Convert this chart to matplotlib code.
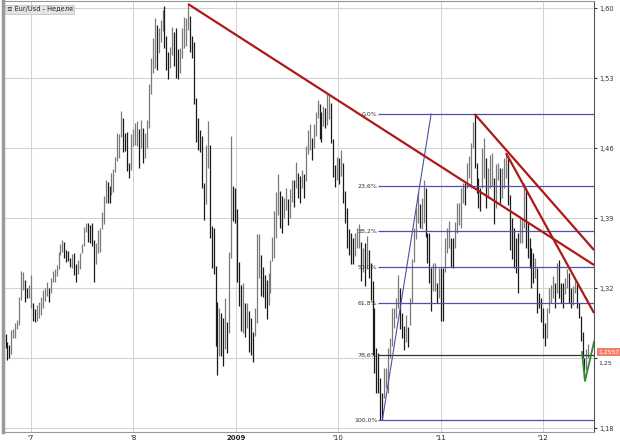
import numpy as np
import pandas as pd
import matplotlib
matplotlib.use("Agg")
import matplotlib.pyplot as plt
import matplotlib.dates as mdates

# weekly EUR/USD bars, first week starts 2006-09-25
first_week = "2006-09-25"
lows = [
    1.2650, 1.2600, 1.2484, 1.2500, 1.2540, 1.2700, 1.2700, 1.2790, 1.2830, 1.3080,
    1.3180, 1.3060, 1.3100, 1.3100, 1.3000, 1.2870, 1.2860, 1.2870, 1.2900, 1.2930,
    1.3000, 1.3070, 1.3120, 1.3060, 1.3150, 1.3260, 1.3260, 1.3320, 1.3390, 1.3530,
    1.3560, 1.3500, 1.3460, 1.3470, 1.3410, 1.3400, 1.3330, 1.3260, 1.3340, 1.3390,
    1.3550, 1.3620, 1.3760, 1.3660, 1.3650, 1.3620, 1.3260, 1.3440, 1.3550, 1.3560,
    1.3790, 1.3840, 1.4050, 1.4050, 1.4050, 1.4130, 1.4160, 1.4360, 1.4470, 1.4500,
    1.4710, 1.4560, 1.4570, 1.4370, 1.4300, 1.4380, 1.4620, 1.4630, 1.4620, 1.4400,
    1.4600, 1.4450, 1.4500, 1.4600, 1.4800, 1.5140, 1.5350, 1.5400, 1.5380, 1.5550,
    1.5660, 1.5770, 1.5600, 1.5380, 1.5290, 1.5400, 1.5530, 1.5420, 1.5300, 1.5290,
    1.5350, 1.5500, 1.5600, 1.5620, 1.5780, 1.5560, 1.5500, 1.5040, 1.4660, 1.4580,
    1.4560, 1.4200, 1.3880, 1.4040, 1.4400, 1.3700, 1.3400, 1.3340, 1.2620, 1.2330,
    1.2520, 1.2520, 1.2420, 1.2590, 1.2550, 1.2750, 1.3500, 1.3870, 1.3850, 1.3260,
    1.3020, 1.2770, 1.2750, 1.2710, 1.2800, 1.2560, 1.2530, 1.2460, 1.2720, 1.2850,
    1.3300, 1.3120, 1.3110, 1.3000, 1.2890, 1.3030, 1.3150, 1.3470, 1.3500, 1.3700,
    1.3930, 1.3800, 1.3750, 1.3900, 1.3980, 1.3830, 1.3900, 1.4060, 1.4010, 1.4200,
    1.4100, 1.4050, 1.4200, 1.4100, 1.4270, 1.4540, 1.4580, 1.4480, 1.4600, 1.4720,
    1.4900, 1.4690, 1.4660, 1.4820, 1.4800, 1.4830, 1.4890, 1.4650, 1.4310, 1.4210,
    1.4280, 1.4240, 1.4320, 1.4050, 1.3850, 1.3600, 1.3530, 1.3440, 1.3440, 1.3520,
    1.3600, 1.3600, 1.3270, 1.3360, 1.3220, 1.3390, 1.3300, 1.3080, 1.2530, 1.2350,
    1.2150, 1.2150, 1.1880, 1.1876, 1.2100, 1.2200, 1.2150, 1.2500, 1.2620, 1.2800,
    1.2900, 1.3000, 1.2790, 1.2700, 1.2580, 1.2660, 1.2610, 1.2830, 1.3050, 1.3460,
    1.3690, 1.3850, 1.3800, 1.3790, 1.3850, 1.3710, 1.3450, 1.3250, 1.2970, 1.3170,
    1.3170, 1.3050, 1.3100, 1.2870, 1.2867, 1.3360, 1.3550, 1.3600, 1.3410, 1.3400,
    1.3600, 1.3750, 1.3830, 1.3800, 1.4050, 1.4030, 1.4200, 1.4300, 1.4200, 1.4600,
    1.4400, 1.4150, 1.4000, 1.3970, 1.4200, 1.4300, 1.4000, 1.4100, 1.4200, 1.4220,
    1.3837, 1.4000, 1.4280, 1.4050, 1.4100, 1.4200, 1.4300, 1.4030, 1.3580, 1.3490,
    1.3400, 1.3350, 1.3146, 1.3650, 1.3650, 1.3800, 1.3600, 1.3500, 1.3400, 1.3200,
    1.3250, 1.3300, 1.2950, 1.3000, 1.2860, 1.2700, 1.2624, 1.2700, 1.2950, 1.3050,
    1.3100, 1.3000, 1.3150, 1.3100, 1.3050, 1.3000, 1.3140, 1.3200, 1.3050, 1.3000,
    1.3030, 1.3150, 1.3000, 1.2900, 1.2670, 1.2500, 1.2288, 1.2380, 1.2500,
]
highs = [
    1.2780, 1.2745, 1.2660, 1.2630, 1.2780, 1.2790, 1.2850, 1.2880, 1.3110, 1.3370,
    1.3360, 1.3280, 1.3200, 1.3230, 1.3330, 1.3050, 1.2990, 1.3030, 1.3060, 1.3110,
    1.3180, 1.3200, 1.3260, 1.3200, 1.3300, 1.3370, 1.3390, 1.3430, 1.3560, 1.3640,
    1.3680, 1.3660, 1.3580, 1.3570, 1.3500, 1.3540, 1.3550, 1.3440, 1.3480, 1.3550,
    1.3640, 1.3810, 1.3850, 1.3850, 1.3830, 1.3850, 1.3680, 1.3650, 1.3780, 1.3800,
    1.3960, 1.4120, 1.4280, 1.4260, 1.4220, 1.4350, 1.4390, 1.4510, 1.4750, 1.4740,
    1.4970, 1.4900, 1.4750, 1.4760, 1.4450, 1.4740, 1.4790, 1.4850, 1.4870, 1.4790,
    1.4880, 1.4800, 1.4750, 1.4880, 1.5240, 1.5500, 1.5700, 1.5900, 1.5830, 1.5800,
    1.5880, 1.5980, 1.6020, 1.5720, 1.5560, 1.5610, 1.5810, 1.5760, 1.5800, 1.5590,
    1.5600, 1.5800, 1.5910, 1.5900, 1.6040, 1.5920, 1.5720, 1.5660, 1.5100, 1.4900,
    1.4780, 1.4720, 1.4250, 1.4630, 1.4870, 1.4630, 1.3820, 1.3800, 1.3420, 1.3060,
    1.3000, 1.2950, 1.2900, 1.3100, 1.2860, 1.3560, 1.4720, 1.4220, 1.4200, 1.3990,
    1.3460, 1.3230, 1.3250, 1.3050, 1.3050, 1.2970, 1.2900, 1.2760, 1.3000, 1.3740,
    1.3740, 1.3530, 1.3410, 1.3330, 1.3280, 1.3350, 1.3480, 1.3710, 1.3970, 1.4160,
    1.4340, 1.4170, 1.4120, 1.4100, 1.4200, 1.4090, 1.4190, 1.4280, 1.4280, 1.4460,
    1.4350, 1.4320, 1.4380, 1.4340, 1.4620, 1.4780, 1.4840, 1.4700, 1.4840, 1.4960,
    1.5080, 1.5040, 1.4960, 1.5020, 1.5000, 1.5140, 1.5145, 1.5050, 1.4690, 1.4430,
    1.4510, 1.4500, 1.4580, 1.4450, 1.4170, 1.4000, 1.3790, 1.3750, 1.3700, 1.3750,
    1.3800, 1.3840, 1.3660, 1.3600, 1.3650, 1.3720, 1.3580, 1.3450, 1.3270, 1.3000,
    1.2600, 1.2550, 1.2300, 1.2150, 1.2400, 1.2400, 1.2600, 1.2700, 1.3000, 1.3000,
    1.3100, 1.3330, 1.3200, 1.2950, 1.2820, 1.2930, 1.2810, 1.3100, 1.3490, 1.3800,
    1.4000, 1.4160, 1.4040, 1.4100, 1.4280, 1.4200, 1.3750, 1.3750, 1.3400, 1.3450,
    1.3450, 1.3250, 1.3400, 1.3400, 1.3400, 1.3700, 1.3800, 1.3870, 1.3700, 1.3700,
    1.3860, 1.4050, 1.4050, 1.4200, 1.4250, 1.4250, 1.4450, 1.4520, 1.4650, 1.4860,
    1.4940, 1.4450, 1.4300, 1.4200, 1.4600, 1.4700, 1.4500, 1.4400, 1.4530, 1.4550,
    1.4300, 1.4440, 1.4450, 1.4400, 1.4400, 1.4500, 1.4550, 1.4500, 1.4130, 1.3900,
    1.3800, 1.3700, 1.3750, 1.3900, 1.3900, 1.4247, 1.4200, 1.3850, 1.3700, 1.3600,
    1.3550, 1.3500, 1.3400, 1.3150, 1.3100, 1.3000, 1.2850, 1.3000, 1.3200, 1.3230,
    1.3320, 1.3250, 1.3450, 1.3480, 1.3250, 1.3250, 1.3300, 1.3390, 1.3350, 1.3200,
    1.3220, 1.3270, 1.3240, 1.3050, 1.2920, 1.2760, 1.2500, 1.2590, 1.2640,
]
last_price = 1.2557

# drawing tools: (date, price) anchors
red_lines = [
    (("2008-07-14", 1.6040), ("2012-07-01", 1.343)),
    (("2011-05-02", 1.4940), ("2012-07-01", 1.358)),
    (("2011-08-22", 1.4550), ("2012-07-01", 1.295)),
]
green_v = [("2012-05-19", 1.256), ("2012-05-30", 1.227), ("2012-07-01", 1.266)]
fib_low = ("2010-06-07", 1.1876)
fib_high = ("2010-11-28", 1.4940)
fib_start = "2010-05-23"
fib_levels = [0.0, 23.6, 38.2, 50.0, 61.8, 78.6, 100.0]

year_ticks = ["2007-01-01", "2008-01-01", "2009-01-01", "2010-01-01", "2011-01-01", "2012-01-01"]
year_labels = ["'7", "'8", "2009", "'10", "'11", "'12"]
price_ticks = [1.18, 1.25, 1.32, 1.39, 1.46, 1.53, 1.60]

dates = pd.date_range(first_week, periods=len(lows), freq="7D")
lows = np.array(lows)
highs = np.array(highs)
mid = (lows + highs) / 2
up = np.r_[True, mid[1:] >= mid[:-1]]
bar_colors = np.where(up, "#7a7a7a", "#1a1a1a")

fig = plt.figure(figsize=(6.2, 4.43), dpi=100)
fig.patch.set_facecolor("white")
ax = fig.add_axes([3 / 620, 11 / 443, 591 / 620, 431 / 443])

x0 = pd.Timestamp("2006-09-23")
x1 = pd.Timestamp("2012-07-01")
ax.set_xlim(x0, x1)
ax.set_ylim(1.176, 1.607)

for t in year_ticks:
    ax.axvline(pd.Timestamp(t), color="#d2d2d2", lw=0.75, zorder=0)
for p in price_ticks:
    ax.axhline(p, color="#d2d2d2", lw=0.75, zorder=0)

ax.vlines(dates, lows, highs, colors=bar_colors, lw=0.9, zorder=2)

# fibonacci retracement
hi, lo = fib_high[1], fib_low[1]
for lev in fib_levels:
    price = hi - (hi - lo) * lev / 100
    col = "#333333" if lev == 78.6 else "#5050a8"
    ax.hlines(price, pd.Timestamp(fib_start), x1, colors=col, lw=0.9, zorder=3)
    ax.text(pd.Timestamp(fib_start) - pd.Timedelta(days=2), price,
            f"{lev:.1f}%".replace(".", ","), fontsize=4.5, color="#333333",
            ha="right", va="center", zorder=4)
ax.plot([pd.Timestamp(fib_low[0]), pd.Timestamp(fib_high[0])], [fib_low[1], fib_high[1]],
        color="#5050a8", lw=0.8, zorder=3)

for (d0, p0), (d1, p1) in red_lines:
    ax.plot([pd.Timestamp(d0), pd.Timestamp(d1)], [p0, p1], color="#b01818",
            lw=1.6, solid_capstyle="butt", zorder=5)

ax.plot([pd.Timestamp(d) for d, _ in green_v], [p for _, p in green_v],
        color="#2e8b2e", lw=1.3, zorder=5)

ax.xaxis.set_major_locator(plt.FixedLocator(mdates.date2num(pd.to_datetime(year_ticks))))
ax.set_xticklabels(year_labels)
for lab in ax.get_xticklabels():
    lab.set_fontsize(5)
    if lab.get_text() == "2009":
        lab.set_fontweight("bold")
ax.tick_params(axis="x", length=0, pad=2, colors="#222222")

ax.yaxis.tick_right()
ax.set_yticks(price_ticks)
ax.set_yticklabels([f"{p:.2f}".replace(".", ",") for p in price_ticks])
ax.tick_params(axis="y", length=2, pad=2, labelsize=4.8, colors="#333333")
# the 1,25 tick label sits under the price marker, shown separately below it
ax.get_yticklabels()[1].set_visible(False)

for side in ["top", "bottom"]:
    ax.spines[side].set_color("#999999")
    ax.spines[side].set_linewidth(0.8)
ax.spines["right"].set_color("#555555")
ax.spines["right"].set_linewidth(0.8)
ax.spines["left"].set_color("#9a9a9a")
ax.spines["left"].set_linewidth(2.5)

ax.annotate(f"{last_price:.4f}".replace(".", ","), xy=(1.0, last_price),
            xycoords=("axes fraction", "data"), xytext=(3, 0), textcoords="offset points",
            fontsize=4.3, color="white", va="center", ha="left", annotation_clip=False,
            bbox=dict(boxstyle="square,pad=0.25", fc="#f08068", ec="none"))
ax.text(1.008, last_price - 0.0105, "1,25", transform=ax.get_yaxis_transform(),
        fontsize=4.5, color="#333333", va="center", ha="left")

ax.text(0.006, 0.988, "\u2261 Eur/Usd - Неделя", transform=ax.transAxes, fontsize=4.8,
        color="#222222", va="top", ha="left",
        bbox=dict(boxstyle="square,pad=0.25", fc="#e4e4e4", ec="#bbbbbb", lw=0.5))

fig.savefig("out.png", dpi=100, facecolor="white")
